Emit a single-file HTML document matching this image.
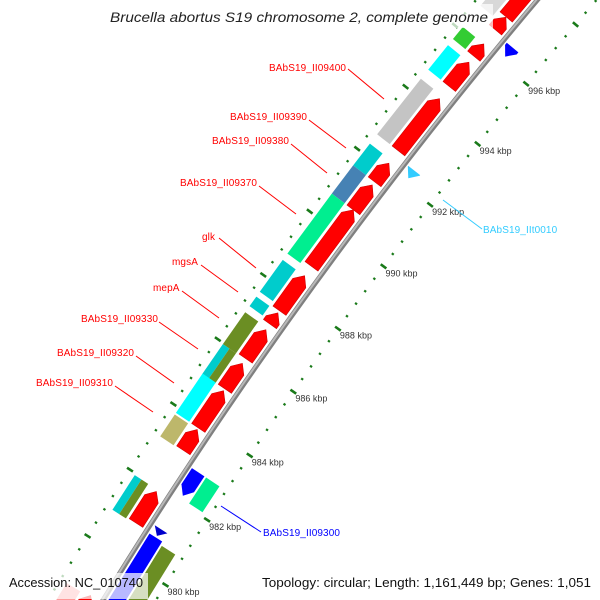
<!DOCTYPE html>
<html><head><meta charset="utf-8"><style>
html,body{margin:0;padding:0;background:#fff;width:600px;height:600px;overflow:hidden;}
svg{display:block;font-family:"Liberation Sans",sans-serif;overflow:hidden;}
</style></head><body>
<svg id="map" width="600" height="600" viewBox="0 0 600 600" xmlns="http://www.w3.org/2000/svg">
<rect width="600" height="600" fill="#fff"/>
<g id="ticks"></g>
<g id="feats"></g>
<g id="bb"></g>
<g id="tlabels" font-size="9" fill="#333"></g>
<g font-size="10" letter-spacing="0.1">
 <g fill="#f00" stroke="none"><text x="269" y="71">BAbS19_II09400</text><line x1="348" y1="69" x2="384" y2="99" stroke="#f00"/></g>
 <g fill="#f00"><text x="230" y="120">BAbS19_II09390</text><line x1="309" y1="120" x2="346" y2="148" stroke="#f00"/></g>
 <g fill="#f00"><text x="212" y="144">BAbS19_II09380</text><line x1="291" y1="144" x2="327" y2="173" stroke="#f00"/></g>
 <g fill="#f00"><text x="180" y="186">BAbS19_II09370</text><line x1="259" y1="186" x2="296" y2="214" stroke="#f00"/></g>
 <g fill="#f00"><text x="202" y="240">glk</text><line x1="219" y1="238" x2="256" y2="268" stroke="#f00"/></g>
 <g fill="#f00"><text x="172" y="265">mgsA</text><line x1="201" y1="265" x2="238" y2="292" stroke="#f00"/></g>
 <g fill="#f00"><text x="153" y="291">mepA</text><line x1="182" y1="291" x2="219" y2="318" stroke="#f00"/></g>
 <g fill="#f00"><text x="81" y="322">BAbS19_II09330</text><line x1="159" y1="322" x2="198" y2="349" stroke="#f00"/></g>
 <g fill="#f00"><text x="57" y="356">BAbS19_II09320</text><line x1="136" y1="356" x2="174" y2="383" stroke="#f00"/></g>
 <g fill="#f00"><text x="36" y="386">BAbS19_II09310</text><line x1="115" y1="386" x2="153" y2="412" stroke="#f00"/></g>
 <g fill="#33ccff"><text x="483" y="233">BAbS19_IIt0010</text><line x1="443" y1="200" x2="482" y2="229" stroke="#33ccff"/></g>
 <g fill="#0000ff"><text x="263" y="536">BAbS19_II09300</text><line x1="221" y1="506" x2="261" y2="532" stroke="#0000ff"/></g>
</g>
<g>
 <rect x="105" y="4" width="388" height="24" fill="#fff" fill-opacity="0.72"/>
 <text x="110" y="22" font-size="14" font-style="italic" fill="#222" textLength="378" lengthAdjust="spacingAndGlyphs">Brucella abortus S19 chromosome 2, complete genome</text>
</g>
<g>
 <rect x="5" y="573" width="143" height="26" fill="#fff" fill-opacity="0.72"/>
 <text x="9" y="587" font-size="13" fill="#111" textLength="134" lengthAdjust="spacingAndGlyphs">Accession: NC_010740</text>
</g>
<g>
 <rect x="258" y="573" width="338" height="26" fill="#fff" fill-opacity="0.72"/>
 <text x="262" y="587" font-size="13" fill="#111" textLength="329" lengthAdjust="spacingAndGlyphs">Topology: circular; Length: 1,161,449 bp; Genes: 1,051</text>
</g>
</svg>
<script>
// forward strand genes (row 1, red arrows), kbp
const fwdStart = [997.0, 996.57, 995.7, 994.7, 992.6, 991.6, 990.7, 988.9, 987.5, 987.08, 986.0, 985.06, 983.85, 983.16, 980.94, 978.0];
const fwdEnd   = [998.6, 996.99, 996.1, 995.5, 994.3, 992.2, 991.5, 990.7, 988.6, 987.43, 986.9, 985.85, 985.0, 983.8, 981.9, 978.75];
// COG row (row 2)
const cogStart = [996.8, 995.7, 994.7, 992.6, 991.6, 990.7, 988.8, 987.6, 987.15, 985.97, 985.03, 983.85, 983.13, 980.9, 978.2];
const cogEnd   = [998.6, 996.1, 995.5, 994.4, 992.3, 991.6, 990.7, 988.6, 987.45, 986.96, 985.97, 985.06, 983.8, 981.95, 978.7];
const cogColor = ["#d8d8d8","#33cc33","#00ffff","#c4c4c4","#00cccc","#4682b4","#00ee90","#00cccc","#00cccc","#6b8e23","split","#00ffff","#bdb76b","split","#ff9999"];
// reverse strand genes (row 1, arrows)
const revStart = [996.2, 992.2, 982.18, 977.0, 980.95];
const revEnd   = [996.5, 992.45, 982.9, 980.9, 981.15];
const revColor = ["#0000ff","#33ccff","#0000ff","#0000ff","#0000cc"];
// reverse COG row (row 2)
const rcogStart = [982.1, 977.0];
const rcogEnd   = [982.9, 980.8];
const rcogColor = ["#00ee90","#6b8e23"];
// tick labels
const tickLabelKbp = [980, 982, 984, 986, 988, 990, 992, 994, 996];

const NS = "http://www.w3.org/2000/svg";
const CX = 4319, CY = 3194, RB = 4950;
const K = 0.451 * Math.PI / 180;
const T0 = Math.atan2(-2866, -3982);
function pt(kbp, off) {
  const t = T0 + (kbp - 988) * K, r = RB + off;
  return [CX + r * Math.cos(t), CY + r * Math.sin(t)];
}
function mk(tag, attrs, parent) {
  const e = document.createElementNS(NS, tag);
  for (const k in attrs) e.setAttribute(k, attrs[k]);
  parent.appendChild(e);
  return e;
}
function ps(arr) { return arr.map(p => p[0].toFixed(2) + "," + p[1].toFixed(2)).join(" "); }
const HEAD = 0.23;
function fwdArrow(s, e, o1, o2) {
  const h = Math.min(HEAD, e - s);
  return [pt(s, o1), pt(e - h, o1), pt(e, (o1 + o2) / 2), pt(e - h, o2), pt(s, o2)];
}
function revArrow(s, e, o1, o2) {
  const h = Math.min(HEAD, e - s);
  return [pt(e, o1), pt(s + h, o1), pt(s, (o1 + o2) / 2), pt(s + h, o2), pt(e, o2)];
}
function rect(s, e, o1, o2) { return [pt(s, o1), pt(e, o1), pt(e, o2), pt(s, o2)]; }

const feats = document.getElementById("feats");
for (let i = 0; i < fwdStart.length; i++) {
  const p = mk("polygon", {points: ps(fwdArrow(fwdStart[i], fwdEnd[i], 5, 21)), fill: "#ff0000", stroke: "#d00000", "stroke-width": "0.6"}, feats);
  
  
}
for (let i = 0; i < cogStart.length; i++) {
  if (cogColor[i] === "split") {
    const a = mk("polygon", {points: ps(rect(cogStart[i], cogEnd[i], 32, 40)), fill: "#00cccc"}, feats);
    
    
    const b = mk("polygon", {points: ps(rect(cogStart[i], cogEnd[i], 24, 32)), fill: "#6b8e23"}, feats);
    
    
  } else {
    const p = mk("polygon", {points: ps(rect(cogStart[i], cogEnd[i], 24, 40)), fill: cogColor[i]}, feats);
    
    
  }
}
for (let i = 0; i < revStart.length; i++) {
  const p = mk("polygon", {points: ps(revArrow(revStart[i], revEnd[i], -4, -19)), fill: revColor[i]}, feats);
  
  
}
for (let i = 0; i < rcogStart.length; i++) {
  const p = mk("polygon", {points: ps(rect(rcogStart[i], rcogEnd[i], -21, -37)), fill: rcogColor[i]}, feats);
  
  
}

// backbone
const bb = document.getElementById("bb");
const bpts = [];
for (let k = 976; k <= 1000; k += 0.5) bpts.push(pt(k, 0));
const b1 = mk("polyline", {points: ps(bpts), fill: "none", stroke: "#808080", "stroke-width": "5"}, bb);


const b2 = mk("polyline", {points: ps(bpts.map((p, j) => pt(976 + j * 0.5, 0.8))), fill: "none", stroke: "#b8b8b8", "stroke-width": "2"}, bb);



// tick rings
const tg = document.getElementById("ticks");
for (const ring of [47, -45]) {
  for (let n = 0; n <= 62; n++) {
    const k = 976 + n * 0.4;
    const major = Math.abs(k / 2 - Math.round(k / 2)) < 0.01;
    const a = pt(k, ring - (major ? 3.5 : 1.2)), b = pt(k, ring + (major ? 3.5 : 1.2));
    const l = mk("line", {x1: a[0], y1: a[1], x2: b[0], y2: b[1], stroke: "#1a7a1a", "stroke-width": major ? "2.6" : "2.2"}, tg);
    
    
  }
}
const tl = document.getElementById("tlabels");
for (const k of tickLabelKbp) {
  const p = pt(k, -45);
  const t = mk("text", {x: p[0] + 2, y: p[1] + 10}, tl);
  t.textContent = k + " kbp";
  
  
}
</script>
</body></html>
